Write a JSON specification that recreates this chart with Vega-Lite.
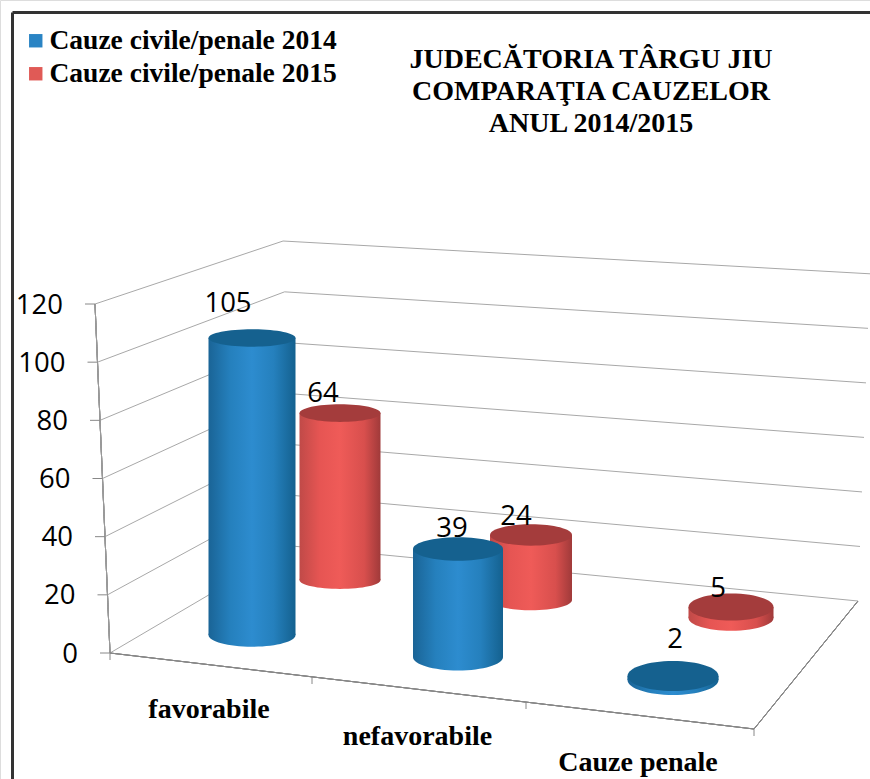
{"$schema":"https://vega.github.io/schema/vega-lite/v6.json","width":870,"height":779,"padding":0,"autosize":{"type":"none"},"background":"white",
"title":{"text":["JUDECĂTORIA TÂRGU JIU","COMPARAŢIA  CAUZELOR","ANUL 2014/2015"],"anchor":"middle","align":"center","baseline":"alphabetic","dx":156,"dy":160,"offset":0,"font":"Liberation Serif","fontSize":28,"fontWeight":"bold","color":"#000","lineHeight":32},
"datasets":{"main":[{"category":"favorabile","series":"Cauze civile/penale 2014","value":105},{"category":"favorabile","series":"Cauze civile/penale 2015","value":64},{"category":"nefavorabile","series":"Cauze civile/penale 2014","value":39},{"category":"nefavorabile","series":"Cauze civile/penale 2015","value":24},{"category":"Cauze penale","series":"Cauze civile/penale 2014","value":2},{"category":"Cauze penale","series":"Cauze civile/penale 2015","value":5}],
"grid":[{"grid":0},{"grid":20},{"grid":40},{"grid":60},{"grid":80},{"grid":100},{"grid":120}],
"bounds":[{"b":0},{"b":1},{"b":2},{"b":3}],
"cats":[{"category":"favorabile"},{"category":"nefavorabile"},{"category":"Cauze penale"}]},
"data":{"name":"main"},
"resolve":{"scale":{"x":"independent","y":"independent","color":"independent"},"axis":{"x":"independent","y":"independent"}},
"layer":[
{"data":{"name":"grid"},"mark":{"type":"rule","opacity":0},"encoding":{"x":{"datum":0,"type":"quantitative","scale":{"domain":[0,1],"range":[12,870]},"axis":{"orient":"top","offset":-12,"domain":true,"domainColor":"#333","domainWidth":3,"ticks":false,"labels":false,"grid":false,"title":null}},"y":{"datum":0,"type":"quantitative","scale":{"domain":[0,1],"range":[12,779]},"axis":{"orient":"left","offset":-12,"domain":true,"domainColor":"#333","domainWidth":3,"ticks":false,"labels":false,"grid":false,"title":null}}}},
{"mark":{"type":"point","opacity":0,"filled":true,"shape":"square"},"encoding":{"color":{"field":"series","type":"nominal","scale":{"domain":["Cauze civile/penale 2014","Cauze civile/penale 2015"],"range":["#2a84c4","#e05a56"]},"legend":{"title":null,"orient":"none","legendX":22,"legendY":27,"symbolType":"square","symbolSize":180,"symbolOpacity":1,"labelFont":"Liberation Serif","labelFontWeight":"bold","labelFontSize":27.5,"labelColor":"#000","labelOpacity":1,"rowPadding":4,"labelOffset":0,"labelLimit":400}}}},
{"data":{"name":"grid"},"mark":{"type":"rule","color":"#a8a8a8","strokeWidth":1,"x2Offset":{"expr":"182+0.05*datum.grid"},"y2Offset":{"expr":"-107+0.367*datum.grid"}},"encoding":{"x":{"field":"grid","type":"quantitative","scale":{"domain":[120,0],"range":[95,110]},"axis":null},"x2":{"field":"grid"},"y":{"field":"grid","type":"quantitative","scale":{"domain":[0,120],"range":[653,304]},"axis":null},"y2":{"field":"grid"}}},
{"data":{"name":"grid"},"mark":{"type":"rule","color":"#a8a8a8","strokeWidth":1,"x2Offset":{"expr":"566+0.175*datum.grid"},"y2Offset":{"expr":"55-0.185*datum.grid"}},"encoding":{"x":{"field":"grid","type":"quantitative","scale":{"domain":[120,0],"range":[283,292]},"axis":null},"x2":{"field":"grid"},"y":{"field":"grid","type":"quantitative","scale":{"domain":[0,120],"range":[546,241]},"axis":null},"y2":{"field":"grid"}}},
{"data":{"name":"grid"},"layer":[
{"mark":{"type":"rule","color":"#999","strokeWidth":1},"encoding":{"x":{"datum":120,"type":"quantitative","scale":{"domain":[120,0],"range":[95,110]},"axis":null},"x2":{"datum":0},"y":{"datum":120,"type":"quantitative","scale":{"domain":[0,120],"range":[653,304]},"axis":null},"y2":{"datum":0}}},
{"mark":{"type":"rule","color":"#888","strokeWidth":1,"x2Offset":-10},"encoding":{"x":{"field":"grid","type":"quantitative","scale":{"domain":[120,0],"range":[95,110]},"axis":null},"x2":{"field":"grid"},"y":{"field":"grid","type":"quantitative","scale":{"domain":[0,120],"range":[653,304]},"axis":null}}},
{"mark":{"type":"text","font":"Open Sans","fontSize":27.5,"color":"#000","align":"right","baseline":"middle","dx":-32,"dy":1.5},"encoding":{"text":{"field":"grid","type":"quantitative"},"x":{"field":"grid","type":"quantitative","scale":{"domain":[120,0],"range":[95,110]},"axis":null},"y":{"field":"grid","type":"quantitative","scale":{"domain":[0,120],"range":[653,304]},"axis":null}}}]},
{"data":{"name":"bounds"},"layer":[
{"mark":{"type":"rule","color":"#888","strokeWidth":1},"encoding":{"x":{"datum":0,"type":"quantitative","scale":{"domain":[0,1,2,3],"range":[110,312,526,754]},"axis":null},"x2":{"datum":3},"y":{"datum":0,"type":"quantitative","scale":{"domain":[0,1,2,3],"range":[653,677,702,729]},"axis":null},"y2":{"datum":3}}},
{"mark":{"type":"rule","color":"#888","strokeWidth":1,"x2Offset":104,"y2Offset":-128},"encoding":{"x":{"datum":3,"type":"quantitative","scale":{"domain":[0,1,2,3],"range":[110,312,526,754]},"axis":null},"x2":{"datum":3},"y":{"datum":3,"type":"quantitative","scale":{"domain":[0,1,2,3],"range":[653,677,702,729]},"axis":null},"y2":{"datum":3}}},
{"mark":{"type":"rule","color":"#888","strokeWidth":1,"y2Offset":7},"encoding":{"x":{"field":"b","type":"quantitative","scale":{"domain":[0,1,2,3],"range":[110,312,526,754]},"axis":null},"y":{"field":"b","type":"quantitative","scale":{"domain":[0,1,2,3],"range":[653,677,702,729]},"axis":null},"y2":{"field":"b"}}}]},
{"transform":[{"filter":"datum.category==='favorabile' && datum.series==='Cauze civile/penale 2015'"}],"encoding":{"x":{"field":"category","type":"nominal","scale":{"type":"point","domain":["favorabile"],"range":[340,340]},"axis":null}},"layer":[
{"mark":{"type":"point","filled":true,"opacity":1,"size":6561,"shape":"M-1,0A1,0.22,0,1,1,1,0A1,0.22,0,1,1,-1,0Z","fill":{"gradient":"linear","x1":0,"x2":1,"y1":0,"y2":0,"stops":[{"offset":0,"color":"#c04a48"},{"offset":0.25,"color":"#e65553"},{"offset":0.5,"color":"#ef5b58"},{"offset":0.8,"color":"#d84f4d"},{"offset":1,"color":"#a03a3a"}]}},"encoding":{"y":{"datum":0,"type":"quantitative","scale":{"domain":[0,120],"range":[580,267]},"axis":null}}},
{"mark":{"type":"bar","width":81,"fill":{"gradient":"linear","x1":0,"x2":1,"y1":0,"y2":0,"stops":[{"offset":0,"color":"#c04a48"},{"offset":0.25,"color":"#e65553"},{"offset":0.5,"color":"#ef5b58"},{"offset":0.8,"color":"#d84f4d"},{"offset":1,"color":"#a03a3a"}]}},"encoding":{"y":{"field":"value","type":"quantitative","scale":{"domain":[0,120],"range":[580,267]},"axis":null}}},
{"mark":{"type":"point","filled":true,"opacity":1,"size":6561,"shape":"M-1,0A1,0.22,0,1,1,1,0A1,0.22,0,1,1,-1,0Z","fill":"#a43c3c"},"encoding":{"y":{"field":"value","type":"quantitative","scale":{"domain":[0,120],"range":[580,267]},"axis":null}}},
{"mark":{"type":"text","font":"Open Sans","fontSize":27.5,"color":"#000","dx":-17,"dy":-19,"baseline":"middle"},"encoding":{"text":{"field":"value","type":"quantitative"},"y":{"field":"value","type":"quantitative","scale":{"domain":[0,120],"range":[580,267]},"axis":null}}}]},
{"transform":[{"filter":"datum.category==='favorabile' && datum.series==='Cauze civile/penale 2014'"}],"encoding":{"x":{"field":"category","type":"nominal","scale":{"type":"point","domain":["favorabile"],"range":[252,252]},"axis":null}},"layer":[
{"mark":{"type":"point","filled":true,"opacity":1,"size":7569,"shape":"M-1,0A1,0.27,0,1,1,1,0A1,0.27,0,1,1,-1,0Z","fill":{"gradient":"linear","x1":0,"x2":1,"y1":0,"y2":0,"stops":[{"offset":0,"color":"#1a6496"},{"offset":0.25,"color":"#2580bd"},{"offset":0.5,"color":"#2d8ccf"},{"offset":0.75,"color":"#2580bd"},{"offset":1,"color":"#14618f"}]}},"encoding":{"y":{"datum":0,"type":"quantitative","scale":{"domain":[0,120],"range":[635,295.6]},"axis":null}}},
{"mark":{"type":"bar","width":87,"fill":{"gradient":"linear","x1":0,"x2":1,"y1":0,"y2":0,"stops":[{"offset":0,"color":"#1a6496"},{"offset":0.25,"color":"#2580bd"},{"offset":0.5,"color":"#2d8ccf"},{"offset":0.75,"color":"#2580bd"},{"offset":1,"color":"#14618f"}]}},"encoding":{"y":{"field":"value","type":"quantitative","scale":{"domain":[0,120],"range":[635,295.6]},"axis":null}}},
{"mark":{"type":"point","filled":true,"opacity":1,"size":7569,"shape":"M-1,0A1,0.2,0,1,1,1,0A1,0.2,0,1,1,-1,0Z","fill":"#15618f"},"encoding":{"y":{"field":"value","type":"quantitative","scale":{"domain":[0,120],"range":[635,295.6]},"axis":null}}},
{"mark":{"type":"text","font":"Open Sans","fontSize":27.5,"color":"#000","dx":-24,"dy":-34,"baseline":"middle"},"encoding":{"text":{"field":"value","type":"quantitative"},"y":{"field":"value","type":"quantitative","scale":{"domain":[0,120],"range":[635,295.6]},"axis":null}}}]},
{"transform":[{"filter":"datum.category==='nefavorabile' && datum.series==='Cauze civile/penale 2015'"}],"encoding":{"x":{"field":"category","type":"nominal","scale":{"type":"point","domain":["nefavorabile"],"range":[531,531]},"axis":null}},"layer":[
{"mark":{"type":"point","filled":true,"opacity":1,"size":6724,"shape":"M-1,0A1,0.25,0,1,1,1,0A1,0.25,0,1,1,-1,0Z","fill":{"gradient":"linear","x1":0,"x2":1,"y1":0,"y2":0,"stops":[{"offset":0,"color":"#c04a48"},{"offset":0.25,"color":"#e65553"},{"offset":0.5,"color":"#ef5b58"},{"offset":0.8,"color":"#d84f4d"},{"offset":1,"color":"#a03a3a"}]}},"encoding":{"y":{"datum":0,"type":"quantitative","scale":{"domain":[0,120],"range":[600,275]},"axis":null}}},
{"mark":{"type":"bar","width":82,"fill":{"gradient":"linear","x1":0,"x2":1,"y1":0,"y2":0,"stops":[{"offset":0,"color":"#c04a48"},{"offset":0.25,"color":"#e65553"},{"offset":0.5,"color":"#ef5b58"},{"offset":0.8,"color":"#d84f4d"},{"offset":1,"color":"#a03a3a"}]}},"encoding":{"y":{"field":"value","type":"quantitative","scale":{"domain":[0,120],"range":[600,275]},"axis":null}}},
{"mark":{"type":"point","filled":true,"opacity":1,"size":6724,"shape":"M-1,0A1,0.26,0,1,1,1,0A1,0.26,0,1,1,-1,0Z","fill":"#a43c3c"},"encoding":{"y":{"field":"value","type":"quantitative","scale":{"domain":[0,120],"range":[600,275]},"axis":null}}},
{"mark":{"type":"text","font":"Open Sans","fontSize":27.5,"color":"#000","dx":-15,"dy":-18,"baseline":"middle"},"encoding":{"text":{"field":"value","type":"quantitative"},"y":{"field":"value","type":"quantitative","scale":{"domain":[0,120],"range":[600,275]},"axis":null}}}]},
{"transform":[{"filter":"datum.category==='nefavorabile' && datum.series==='Cauze civile/penale 2014'"}],"encoding":{"x":{"field":"category","type":"nominal","scale":{"type":"point","domain":["nefavorabile"],"range":[458,458]},"axis":null}},"layer":[
{"mark":{"type":"point","filled":true,"opacity":1,"size":8100,"shape":"M-1,0A1,0.3,0,1,1,1,0A1,0.3,0,1,1,-1,0Z","fill":{"gradient":"linear","x1":0,"x2":1,"y1":0,"y2":0,"stops":[{"offset":0,"color":"#1a6496"},{"offset":0.25,"color":"#2580bd"},{"offset":0.5,"color":"#2d8ccf"},{"offset":0.75,"color":"#2580bd"},{"offset":1,"color":"#14618f"}]}},"encoding":{"y":{"datum":0,"type":"quantitative","scale":{"domain":[0,120],"range":[657,324.7]},"axis":null}}},
{"mark":{"type":"bar","width":90,"fill":{"gradient":"linear","x1":0,"x2":1,"y1":0,"y2":0,"stops":[{"offset":0,"color":"#1a6496"},{"offset":0.25,"color":"#2580bd"},{"offset":0.5,"color":"#2d8ccf"},{"offset":0.75,"color":"#2580bd"},{"offset":1,"color":"#14618f"}]}},"encoding":{"y":{"field":"value","type":"quantitative","scale":{"domain":[0,120],"range":[657,324.7]},"axis":null}}},
{"mark":{"type":"point","filled":true,"opacity":1,"size":8100,"shape":"M-1,0A1,0.26,0,1,1,1,0A1,0.26,0,1,1,-1,0Z","fill":"#15618f"},"encoding":{"y":{"field":"value","type":"quantitative","scale":{"domain":[0,120],"range":[657,324.7]},"axis":null}}},
{"mark":{"type":"text","font":"Open Sans","fontSize":27.5,"color":"#000","dx":-6,"dy":-20,"baseline":"middle"},"encoding":{"text":{"field":"value","type":"quantitative"},"y":{"field":"value","type":"quantitative","scale":{"domain":[0,120],"range":[657,324.7]},"axis":null}}}]},
{"transform":[{"filter":"datum.category==='Cauze penale' && datum.series==='Cauze civile/penale 2015'"}],"encoding":{"x":{"field":"category","type":"nominal","scale":{"type":"point","domain":["Cauze penale"],"range":[731,731]},"axis":null}},"layer":[
{"mark":{"type":"point","filled":true,"opacity":1,"size":7225,"shape":"M-1,0A1,0.3,0,1,1,1,0A1,0.3,0,1,1,-1,0Z","fill":{"gradient":"linear","x1":0,"x2":1,"y1":0,"y2":0,"stops":[{"offset":0,"color":"#c04a48"},{"offset":0.25,"color":"#e65553"},{"offset":0.5,"color":"#ef5b58"},{"offset":0.8,"color":"#d84f4d"},{"offset":1,"color":"#a03a3a"}]}},"encoding":{"y":{"datum":0,"type":"quantitative","scale":{"domain":[0,120],"range":[618,354]},"axis":null}}},
{"mark":{"type":"bar","width":85,"fill":{"gradient":"linear","x1":0,"x2":1,"y1":0,"y2":0,"stops":[{"offset":0,"color":"#c04a48"},{"offset":0.25,"color":"#e65553"},{"offset":0.5,"color":"#ef5b58"},{"offset":0.8,"color":"#d84f4d"},{"offset":1,"color":"#a03a3a"}]}},"encoding":{"y":{"field":"value","type":"quantitative","scale":{"domain":[0,120],"range":[618,354]},"axis":null}}},
{"mark":{"type":"point","filled":true,"opacity":1,"size":7225,"shape":"M-1,0A1,0.32,0,1,1,1,0A1,0.32,0,1,1,-1,0Z","fill":"#a43c3c"},"encoding":{"y":{"field":"value","type":"quantitative","scale":{"domain":[0,120],"range":[618,354]},"axis":null}}},
{"mark":{"type":"text","font":"Open Sans","fontSize":27.5,"color":"#000","dx":-13,"dy":-18,"baseline":"middle"},"encoding":{"text":{"field":"value","type":"quantitative"},"y":{"field":"value","type":"quantitative","scale":{"domain":[0,120],"range":[618,354]},"axis":null}}}]},
{"transform":[{"filter":"datum.category==='Cauze penale' && datum.series==='Cauze civile/penale 2014'"}],"encoding":{"x":{"field":"category","type":"nominal","scale":{"type":"point","domain":["Cauze penale"],"range":[673,673]},"axis":null}},"layer":[
{"mark":{"type":"point","filled":true,"opacity":1,"size":8281,"shape":"M-1,0A1,0.33,0,1,1,1,0A1,0.33,0,1,1,-1,0Z","fill":{"gradient":"linear","x1":0,"x2":1,"y1":0,"y2":0,"stops":[{"offset":0,"color":"#1a6496"},{"offset":0.25,"color":"#2580bd"},{"offset":0.5,"color":"#2d8ccf"},{"offset":0.75,"color":"#2580bd"},{"offset":1,"color":"#14618f"}]}},"encoding":{"y":{"datum":0,"type":"quantitative","scale":{"domain":[0,120],"range":[680,440]},"axis":null}}},
{"mark":{"type":"bar","width":91,"fill":{"gradient":"linear","x1":0,"x2":1,"y1":0,"y2":0,"stops":[{"offset":0,"color":"#1a6496"},{"offset":0.25,"color":"#2580bd"},{"offset":0.5,"color":"#2d8ccf"},{"offset":0.75,"color":"#2580bd"},{"offset":1,"color":"#14618f"}]}},"encoding":{"y":{"field":"value","type":"quantitative","scale":{"domain":[0,120],"range":[680,440]},"axis":null}}},
{"mark":{"type":"point","filled":true,"opacity":1,"size":8281,"shape":"M-1,0A1,0.33,0,1,1,1,0A1,0.33,0,1,1,-1,0Z","fill":"#15618f"},"encoding":{"y":{"field":"value","type":"quantitative","scale":{"domain":[0,120],"range":[680,440]},"axis":null}}},
{"mark":{"type":"text","font":"Open Sans","fontSize":27.5,"color":"#000","dx":2,"dy":-36,"baseline":"middle"},"encoding":{"text":{"field":"value","type":"quantitative"},"y":{"field":"value","type":"quantitative","scale":{"domain":[0,120],"range":[680,440]},"axis":null}}}]},
{"data":{"name":"cats"},"mark":{"type":"text","font":"Liberation Serif","fontWeight":"bold","fontSize":28,"color":"#000","baseline":"middle","dx":{"expr":"datum.category==='nefavorabile'?-6:0"}},"encoding":{"text":{"field":"category","type":"nominal"},"x":{"field":"category","type":"nominal","scale":{"type":"point","padding":0,"domain":["favorabile","nefavorabile","Cauze penale"],"range":[209,638]},"axis":null},"y":{"field":"category","type":"nominal","scale":{"type":"point","padding":0,"domain":["favorabile","nefavorabile","Cauze penale"],"range":[710,763]},"axis":null}}}
]}
